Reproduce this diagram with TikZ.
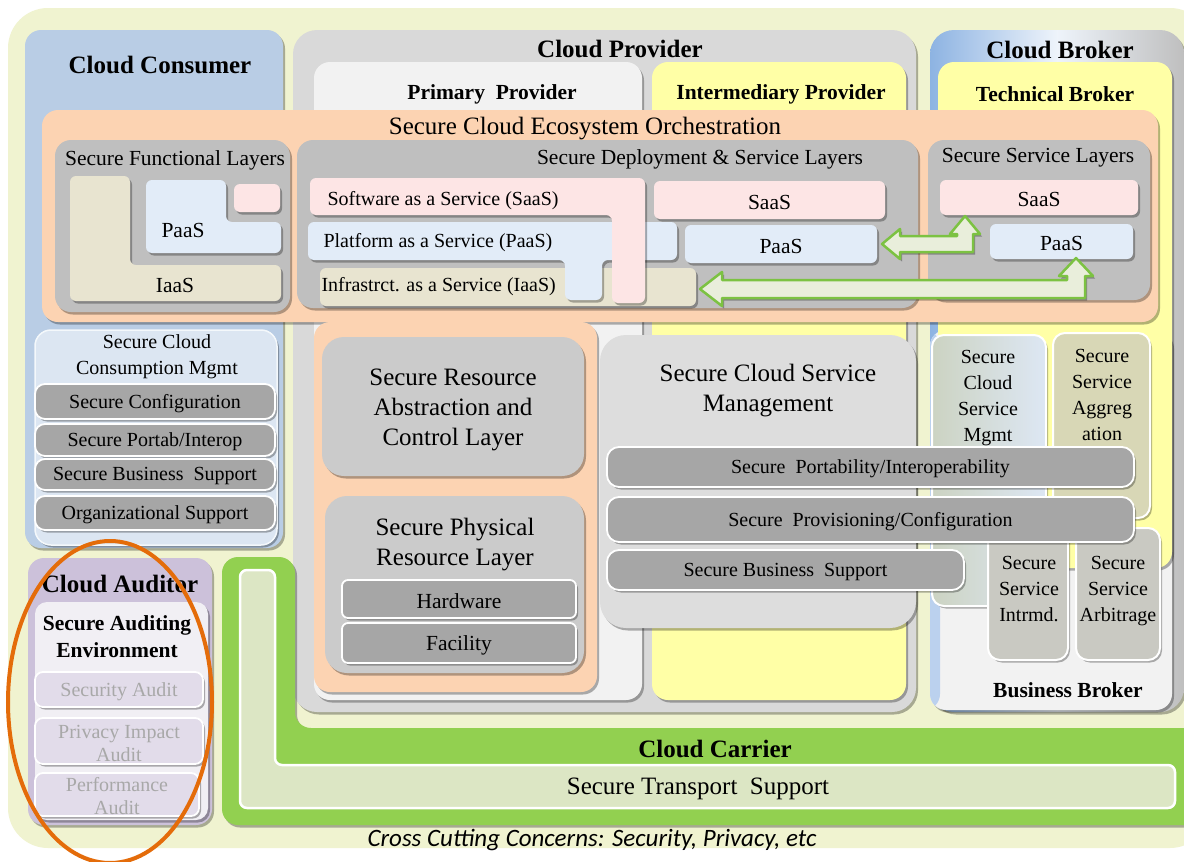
\documentclass[tikz,border=0pt]{standalone}
\usepackage{fontspec}
\setmainfont{Liberation Serif}
\newfontfamily\ccfont{Carlito}
\usetikzlibrary{positioning,fit,shapes.geometric,shadows}

\definecolor{bgpale}{HTML}{F0F3D0}
\definecolor{consumerblue}{HTML}{B9CDE5}
\definecolor{providergray}{HTML}{D9D9D9}
\definecolor{primarygray}{HTML}{F2F2F2}
\definecolor{intermyellow}{HTML}{FFFFA6}
\definecolor{orchpeach}{HTML}{FCD3B2}
\definecolor{layergray}{HTML}{BFBFBF}
\definecolor{saaspink}{HTML}{FDE5E5}
\definecolor{paasblue}{HTML}{E2ECF8}
\definecolor{iaastan}{HTML}{E8E4D0}
\definecolor{bargray}{HTML}{A6A6A6}
\definecolor{mgmtblue}{HTML}{DCE6F2}
\definecolor{auditpurple}{HTML}{CCC1DA}
\definecolor{auditlilac}{HTML}{E2DCEA}
\definecolor{auditenv}{HTML}{F1EFF4}
\definecolor{audittext}{HTML}{A8A8A8}
\definecolor{ringorange}{HTML}{E46C0A}
\definecolor{carriergreen}{HTML}{92D050}
\definecolor{transportgreen}{HTML}{DCE6C4}
\definecolor{arrowgreen}{HTML}{7CC242}
\definecolor{arrowfill}{HTML}{E9EEDB}
\definecolor{blockgray}{HTML}{CBCBCB}
\definecolor{svcgray}{HTML}{DDDDDD}
\definecolor{brokerblue}{HTML}{8DB3E2}
\definecolor{aggolive}{HTML}{D8D7B6}
\definecolor{intrgray}{HTML}{C9C9C2}
\definecolor{mgmtolive}{HTML}{CCD3C2}
\definecolor{mgmtsky}{HTML}{DDE7F4}

\begin{document}
\begin{tikzpicture}[x=1pt,y=-1pt,
  panel/.style={rounded corners=16pt,inner sep=0pt,outer sep=0pt},
  softshadow/.style={drop shadow={shadow xshift=2pt,shadow yshift=-2.5pt,opacity=.3,fill=black}},
  tile/.style={panel,rounded corners=6pt},
  graybar/.style={panel,rounded corners=10pt,fill=bargray,draw=white,line width=1.8pt,softshadow},
  auditbox/.style={panel,rounded corners=8pt,fill=auditlilac,draw=white,line width=1.8pt,softshadow},
  brokerbox/.style={panel,rounded corners=12pt,draw=white,line width=2pt,softshadow},
  maintitle/.style={font=\fontsize{25}{28}\selectfont\bfseries,yshift=-2pt},
  subtitle/.style={font=\fontsize{21.5}{27}\selectfont\bfseries,align=center,yshift=-2pt},
  layertitle/.style={font=\fontsize{21.5}{26}\selectfont,yshift=-2pt},
  bodytext/.style={font=\fontsize{20}{26}\selectfont,align=center,yshift=-2pt},
  tiletext/.style={font=\fontsize{21.5}{26}\selectfont,yshift=-2pt},
  audittext/.style={font=\fontsize{20}{23}\selectfont,align=center,text=audittext,yshift=-2pt},
  bigtext/.style={font=\fontsize{25}{30}\selectfont,align=center,yshift=-3pt},
  fatarrow/.style={draw=arrowgreen,line width=2.5pt,fill=arrowfill,line join=round,softshadow}]

\useasboundingbox (0,0) rectangle (1184,862);
\clip (0,0) rectangle (1184,862);
\fill[white] (0,0) rectangle (1184,862);
\node[panel,rounded corners=40pt,fill=bgpale,fit={(8,8) (1210,848)}] (ecosystem) {};

% actors
\node[panel,fill=consumerblue,softshadow,fit={(25,30) (283,548)}] (consumer) {};
\node[maintitle] (consumertitle) at (160,63) {Cloud Consumer};

\node[panel,rounded corners=24pt,fill=providergray,softshadow,fit={(293,30) (916,712)}] (provider) {};
\node[panel,fill=primarygray,softshadow,fit={(314,62) (642,700)}] (primary) {};
\node[panel,fill=intermyellow,softshadow,fit={(652,62) (906,700)}] (interm) {};
\node[maintitle] (providertitle) at (620,47) {Cloud Provider};
\node[subtitle] (primarytitle) at (492,92) {Primary\ \ Provider};
\node[subtitle] (intermtitle) at (781,92) {Intermediary Provider};

\node[panel,rounded corners=24pt,left color=brokerblue,right color=layergray,middle color=white!85!brokerblue,softshadow,fit={(930,30) (1184,712)}] (broker) {};
\node[panel,fill=primarygray,softshadow,fit={(930,330) (1172,710)},
  path picture={\fill[brokerblue!60] (path picture bounding box.south west) rectangle ([xshift=10pt]path picture bounding box.north west);}] (business) {};
\node[panel,fill=intermyellow,softshadow,fit={(938,62) (1172,568)}] (technical) {};
\node[maintitle] (brokertitle) at (1060,48) {Cloud Broker};
\node[subtitle] (technicaltitle) at (1055,92) {Technical Broker};
\node[subtitle] (businesstitle) at (1068,688) {Business Broker};

% orchestration
\node[panel,fill=orchpeach,softshadow,fit={(42,110) (1158,322)}] (orch) {};
\node[bigtext] (orchtitle) at (585,126) {Secure Cloud Ecosystem Orchestration};

\node[panel,fill=layergray,softshadow,fit={(55,140) (290,312)}] (functional) {};
\node[layertitle] (functionaltitle) at (175,158) {Secure Functional Layers};
\draw[fill=iaastan,draw=none,rounded corners=6pt,softshadow] (70,176) -- (130,176) -- (130,265) -- (281,265) -- (281,301) -- (70,301) -- cycle;
\draw[fill=paasblue,draw=none,rounded corners=6pt,softshadow] (146,180) -- (226,180) -- (226,222) -- (281,222) -- (281,253) -- (146,253) -- cycle;
\node[tile,fill=saaspink,softshadow,fit={(234,184) (280,212)}] (fsaas) {};
\node[tiletext] (fpaas) at (183,228) {PaaS};
\node[tiletext] (fiaas) at (175,283) {IaaS};

\node[panel,fill=layergray,softshadow,fit={(297,140) (918,308)}] (deploy) {};
\node[layertitle] (deploytitle) at (700,157) {Secure Deployment \& Service Layers};
\node[tile,fill=iaastan,softshadow,fit={(320,268) (696,306)}] (diaas) {};
\draw[fill=paasblue,draw=none,rounded corners=6pt,softshadow] (308,222) -- (677,222) -- (677,260) -- (602,260) -- (602,300) -- (565,300) -- (565,260) -- (308,260) -- cycle;
\draw[fill=saaspink,draw=none,rounded corners=6pt,softshadow] (310,178) -- (645,178) -- (645,303) -- (612,303) -- (612,215) -- (310,215) -- cycle;
\node[bodytext,anchor=west] (dsaaslabel) at (324,199) {Software as a Service (SaaS)};
\node[bodytext,anchor=west] (dpaaslabel) at (320,241) {Platform as a Service (PaaS)};
\node[bodytext,anchor=west] (diaaslabel) at (318,285) {Infrastrct. as a Service (IaaS)};
\node[tile,fill=saaspink,softshadow,fit={(654,181) (885,219)},label={[tiletext]center:SaaS}] (isaas) {};
\node[tile,fill=paasblue,softshadow,fit={(685,225) (877,263)},label={[tiletext]center:PaaS}] (ipaas) {};

\node[panel,fill=layergray,softshadow,fit={(928,140) (1150,300)}] (service) {};
\node[layertitle] (servicetitle) at (1038,156) {Secure Service Layers};
\node[tile,fill=saaspink,softshadow,fit={(940,180) (1138,215)},label={[tiletext]center:SaaS}] (bsaas) {};
\node[tile,fill=paasblue,softshadow,fit={(990,224) (1133,259)},label={[tiletext]center:PaaS}] (bpaas) {};

% consumer management
\node[panel,fill=mgmtblue,draw=white!70!mgmtblue,line width=1.5pt,softshadow,fit={(35,330) (277,545)}] (consumption) {};
\node[bodytext] (consumptiontitle) at (157,355) {Secure Cloud\\Consumption Mgmt};
\node[graybar,fit={(35,384) (275,419)},label={[bodytext]center:Secure Configuration}] (configuration) {};
\node[graybar,fit={(35,424) (275,456)},label={[bodytext]center:Secure Portab/Interop}] (portab) {};
\node[graybar,fit={(35,459) (275,490)},label={[bodytext]center:Secure Business\ \ Support}] (cbusiness) {};
\node[graybar,fit={(35,496) (275,530)},label={[bodytext]center:Organizational Support}] (organizational) {};

% auditor
\node[panel,fill=auditpurple,softshadow,fit={(28,558) (212,825)}] (auditor) {};
\node[maintitle] (auditortitle) at (120,582) {Cloud Auditor};
\node[panel,rounded corners=12pt,fill=auditenv,softshadow,fit={(35,602) (208,820)}] (auditenv) {};
\node[subtitle] (auditenvtitle) at (117,635) {Secure Auditing\\Environment};
\node[auditbox,fit={(35,672) (203,707)},label={[audittext]center:Security Audit}] (securityaudit) {};
\node[auditbox,fit={(35,718) (203,764)},label={[audittext]center:{Privacy Impact\\Audit}}] (privacyaudit) {};
\node[auditbox,fit={(35,773) (199,816)},label={[audittext]center:{Performance\\Audit}}] (performanceaudit) {};

% provider resources
\node[panel,fill=orchpeach,softshadow,fit={(314,322) (597,692)}] (resources) {};
\node[panel,rounded corners=22pt,fill=blockgray,softshadow,fit={(322,337) (584,476)},label={[bigtext]center:{Secure Resource\\Abstraction and\\Control Layer}}] (abstraction) {};
\node[panel,rounded corners=22pt,fill=blockgray,softshadow,fit={(325,496) (584,673)}] (physical) {};
\node[bigtext] (physicaltitle) at (455,542) {Secure Physical\\Resource Layer};
\node[graybar,rounded corners=6pt,fit={(342,580) (576,618)},label={[tiletext]center:Hardware}] (hardware) {};
\node[graybar,rounded corners=6pt,fit={(342,623) (576,663)},label={[tiletext]center:Facility}] (facility) {};

% service management
\node[panel,rounded corners=26pt,fill=svcgray,softshadow,fit={(600,335) (916,628)}] (svcmgmt) {};
\node[bigtext] (svcmgmttitle) at (768,388) {Secure Cloud Service\\Management};

\node[brokerbox,left color=mgmtolive,right color=mgmtsky,fit={(932,335) (1046,606)}] (bsvcmgmt) {};
\node[bodytext] (bsvcmgmttitle) at (988,396) {Secure\\Cloud\\Service\\Mgmt};
\node[brokerbox,fill=aggolive,fit={(1053,333) (1150,518)}] (aggregation) {};
\node[bodytext] (aggregationtitle) at (1102,393) {Secure\\Service\\Aggreg\\ation};
\node[brokerbox,fill=intrgray,fit={(988,528) (1068,660)}] (intrmd) {};
\node[bodytext] (intrmdtitle) at (1029,587) {Secure\\Service\\Intrmd.};
\node[brokerbox,fill=intrgray,fit={(1076,528) (1160,660)}] (arbitrage) {};
\node[bodytext] (arbitragetitle) at (1118,589) {Secure\\Service\\Arbitrage};

\node[graybar,rounded corners=12pt,fit={(607,447) (1134,487)},label={[bodytext]center:Secure\ \ Portability/Interoperability}] (portability) {};
\node[graybar,rounded corners=12pt,fit={(607,497) (1134,542)},label={[bodytext]center:Secure\ \ Provisioning/Configuration}] (provisioning) {};
\node[graybar,rounded corners=12pt,fit={(607,550) (964,590)},label={[bodytext]center:Secure Business\ \ Support}] (pbusiness) {};

% carrier
\draw[fill=carriergreen,draw=none,rounded corners=16pt,softshadow] (222,557) -- (295,557) -- (295,728) -- (1200,728) -- (1200,825) -- (222,825) -- cycle;
\draw[fill=transportgreen,draw=white,line width=2.5pt,rounded corners=7pt] (240,570) -- (275,570) -- (275,765) -- (1175,765) -- (1175,808) -- (240,808) -- cycle;
\node[maintitle] (carriertitle) at (715,747) {Cloud Carrier};
\node[font=\fontsize{25}{28}\selectfont,yshift=-2pt] (transport) at (698,787) {Secure Transport\ \ Support};

% service flows
\draw[fatarrow] (882,244) -- (900,229) -- (900,236) -- (957,236) -- (957,234) -- (950,234) -- (965,216) -- (980,234) -- (973,234) -- (973,252) -- (900,252) -- (900,259) -- cycle;
\draw[fatarrow] (700,289) -- (722,272) -- (722,280) -- (1067,280) -- (1067,276) -- (1059,276) -- (1076,258) -- (1093,276) -- (1085,276) -- (1085,298) -- (722,298) -- (722,306) -- cycle;

\node[draw=ringorange,line width=4pt,ellipse,minimum width=204pt,minimum height=322pt,inner sep=0pt] (auditring) at (110,702) {};

\node[font=\ccfont\itshape\fontsize{25}{28}\selectfont,yshift=-2pt] (crosscutting) at (592,838) {Cross Cutting Concerns: Security, Privacy, etc};
\end{tikzpicture}
\end{document}
